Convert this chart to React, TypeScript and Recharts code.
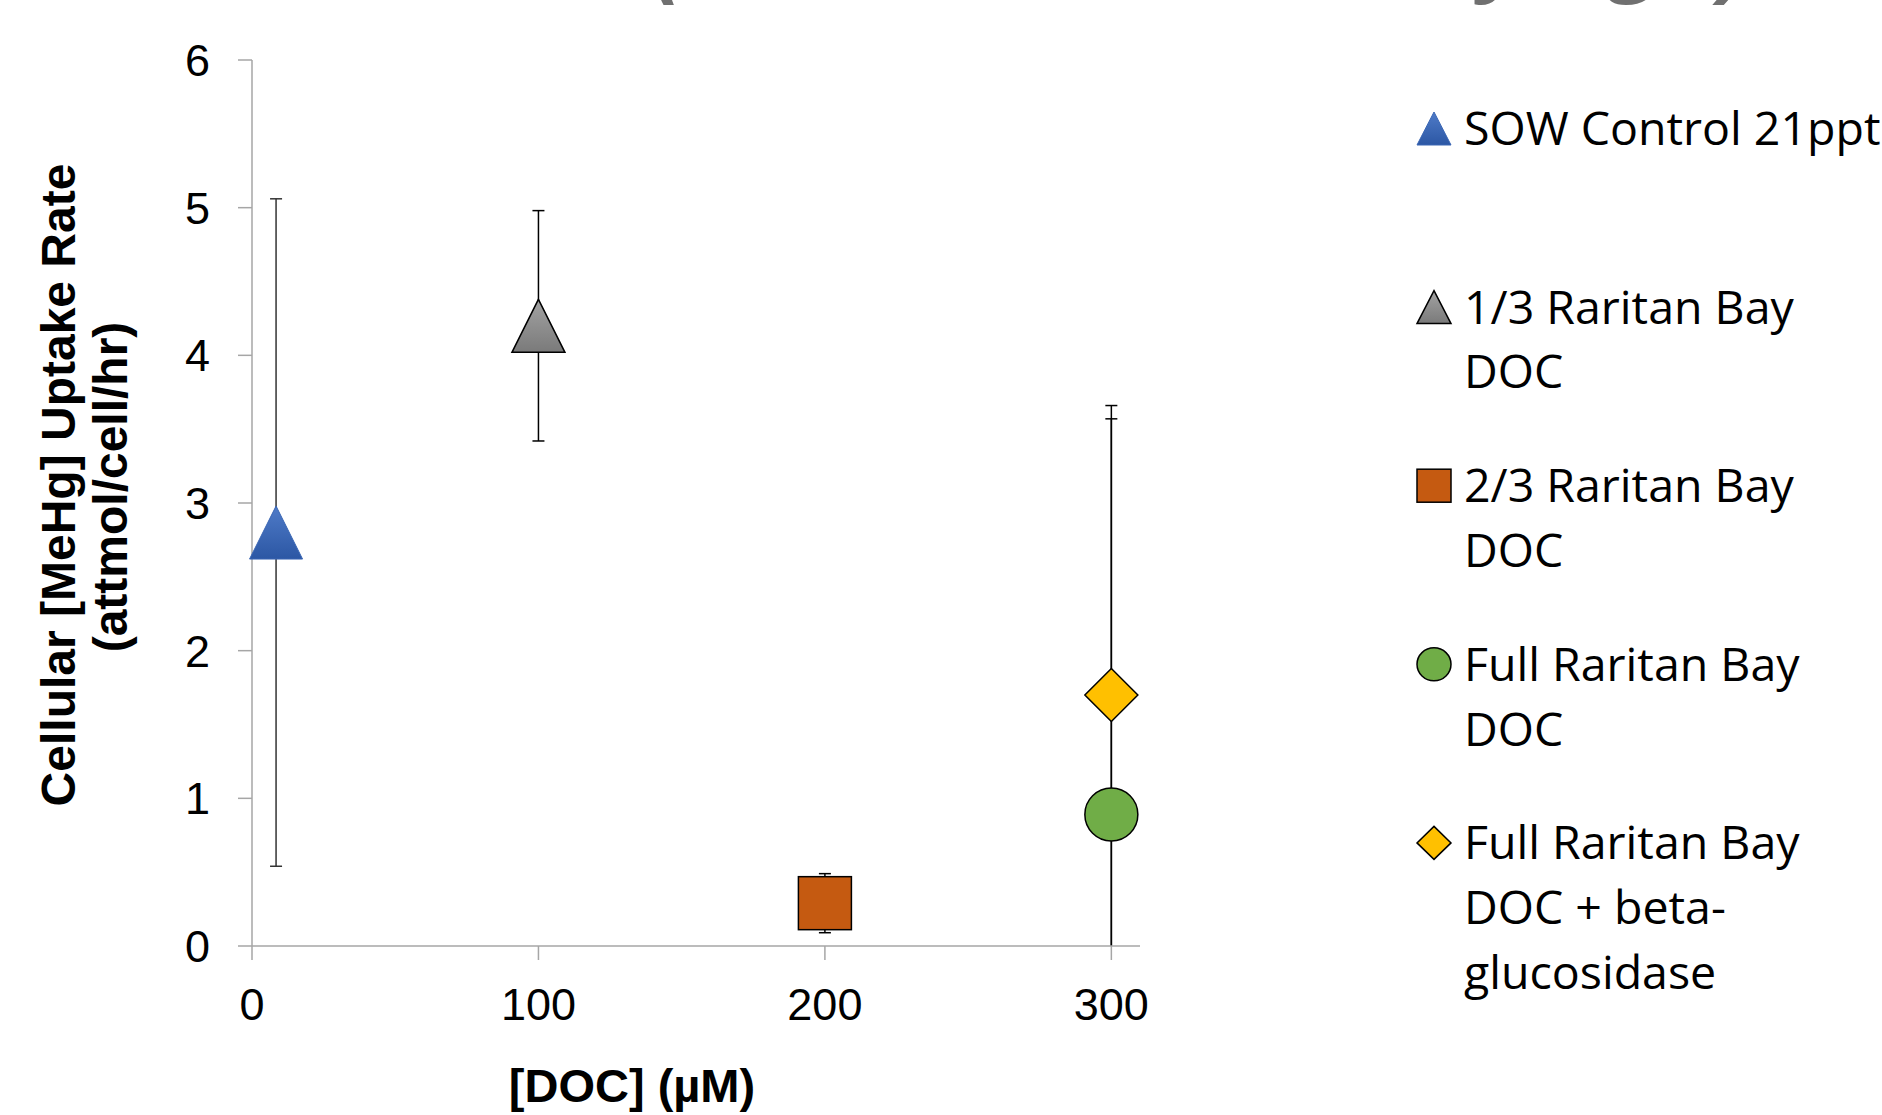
import React from 'react';
import { ScatterChart, Scatter, XAxis, YAxis, ErrorBar, Legend, Label } from 'recharts';

// Series definitions
const seriesNames = [
  'SOW Control 21ppt',
  '1/3 Raritan Bay DOC',
  '2/3 Raritan Bay DOC',
  'Full Raritan Bay DOC',
  'Full Raritan Bay DOC + beta-glucosidase',
];
const legendLines = [
  ['SOW Control 21ppt'],
  ['1/3 Raritan Bay', 'DOC'],
  ['2/3 Raritan Bay', 'DOC'],
  ['Full Raritan Bay', 'DOC'],
  ['Full Raritan Bay', 'DOC + beta-', 'glucosidase'],
];
const docConcentrations = [8.4, 100, 200, 300, 300];
const uptakeRates = [2.8, 4.2, 0.29, 0.89, 1.7];
const uptakeErrors = [2.26, 0.78, 0.2, 2.77, 1.87];
const markerKinds = ['triangle', 'triangle', 'square', 'circle', 'diamond'];
const errorColors = ['#333333', '#000000', '#000000', '#000000', '#000000'];

const xTicks = [0, 100, 200, 300];
const yTicks = [0, 1, 2, 3, 4, 5, 6];
const Y_MIN = 0;

// Heading glyphs showing at the top edge
const headingGlyphs = ['(', 'y', 'g', ')'];
const headingGlyphX = [669, 1504, 1636, 1734];
const headingGlyphY = [-9, -17, -17, -9];

const W = 1882;
const H = 1115;

const seriesData = seriesNames.map((name, i) => [
  { doc: docConcentrations[i], rate: uptakeRates[i], err: uptakeErrors[i], name },
]);

// upper whisker, and lower whisker stopped at the axis floor
const upperError = (d: any) => {
  const p = d && d.payload ? d.payload : d;
  return [0, p.err];
};
const lowerError = (d: any) => {
  const p = d && d.payload ? d.payload : d;
  return [Math.min(p.err, p.rate - Y_MIN), 0];
};

function fillFor(i: number, prefix: string) {
  if (i === 0) return `url(#${prefix}-blue)`;
  if (i === 1) return `url(#${prefix}-gray)`;
  if (i === 2) return '#C55A11';
  if (i === 3) return '#70AD47';
  return '#FFC000';
}

function Gradients({ prefix }: { prefix: string }) {
  return (
    <defs>
      <linearGradient id={`${prefix}-blue`} x1="0" y1="0" x2="0" y2="1">
        <stop offset="0%" stopColor="#4F7BC8" />
        <stop offset="100%" stopColor="#2C57A4" />
      </linearGradient>
      <linearGradient id={`${prefix}-gray`} x1="0" y1="0" x2="0" y2="1">
        <stop offset="0%" stopColor="#A3A3A3" />
        <stop offset="100%" stopColor="#7A7A7A" />
      </linearGradient>
    </defs>
  );
}

function drawMarker(i: number, cx: number, cy: number, w: number, h: number, prefix: string) {
  const kind = markerKinds[i];
  const fill = fillFor(i, prefix);
  const stroke = i === 0 ? '#3A66B4' : '#000000';
  const sw = i === 0 ? 1 : 1.5;
  const hw = w / 2;
  const hh = h / 2;
  if (kind === 'triangle') {
    return (
      <polygon
        points={`${cx},${cy - hh} ${cx + hw},${cy + hh} ${cx - hw},${cy + hh}`}
        fill={fill}
        stroke={stroke}
        strokeWidth={sw}
      />
    );
  }
  if (kind === 'square') {
    return <rect x={cx - hw} y={cy - hh} width={w} height={h} fill={fill} stroke={stroke} strokeWidth={sw} />;
  }
  if (kind === 'circle') {
    return <ellipse cx={cx} cy={cy} rx={hw} ry={hh} fill={fill} stroke={stroke} strokeWidth={sw} />;
  }
  return (
    <polygon
      points={`${cx},${cy - hh} ${cx + hw},${cy} ${cx},${cy + hh} ${cx - hw},${cy}`}
      fill={fill}
      stroke={stroke}
      strokeWidth={sw}
    />
  );
}

const makeShape = (i: number) => (props: any) => {
  const { cx, cy } = props;
  if (cx == null || cy == null) return <g />;
  return <g>{drawMarker(i, cx, cy, 53, 53, 'plot')}</g>;
};

const emptyShape = () => <g />;

function LegendPanel() {
  const baseline0 = 145;
  const step = 178.6;
  const lineHeight = 64.7;
  return (
    <svg width={W} height={H} style={{ position: 'absolute', left: 0, top: 0 }}>
      <Gradients prefix="legend" />
      {seriesNames.map((name, i) => {
        const base = baseline0 + i * step;
        return (
          <g key={name}>
            {drawMarker(i, 1434, base - 16.5, 34, 33, 'legend')}
            <text x={1464} y={base} fontFamily="'Open Sans', sans-serif" fontSize={46.5} fill="#000000">
              {legendLines[i].map((line, j) => (
                <tspan key={j} x={1464} y={base + j * lineHeight}>
                  {line}
                </tspan>
              ))}
            </text>
          </g>
        );
      })}
    </svg>
  );
}

const tickStyle = { fill: '#000000', fontSize: 45, fontFamily: "'Liberation Sans', Arial, sans-serif" };

export default function App() {
  return (
    <div style={{ position: 'absolute', left: 0, top: 0, width: W, height: H, background: '#ffffff', overflow: 'hidden' }}>
      <svg width={W} height={H} style={{ position: 'absolute', left: 0, top: 0 }}>
        {headingGlyphs.map((g, i) => (
          <text
            key={i}
            x={headingGlyphX[i]}
            y={headingGlyphY[i]}
            textAnchor="middle"
            fontFamily="'Open Sans', sans-serif"
            fontStyle="italic"
            fontWeight={700}
            fontSize={90}
            fill="#707070"
          >
            {g}
          </text>
        ))}
      </svg>
      <div style={{ position: 'absolute', left: 0, top: 0 }}>
        <ScatterChart width={W} height={H} margin={{ top: 60, right: 742, bottom: 0, left: 0 }}>
          <Gradients prefix="plot" />
          <XAxis
            type="number"
            dataKey="doc"
            domain={[0, 310]}
            ticks={xTicks}
            interval={0}
            height={169}
            tickSize={14}
            tickMargin={28}
            stroke="#A6A6A6"
            strokeWidth={1.5}
            tick={tickStyle}
          >
            <Label
              content={() => (
                <text
                  x={632}
                  y={1102}
                  textAnchor="middle"
                  fontFamily="'Liberation Sans', Arial, sans-serif"
                  fontWeight={700}
                  fontSize={47}
                  fill="#000000"
                >
                  [DOC] (µM)
                </text>
              )}
            />
          </XAxis>
          <YAxis
            type="number"
            dataKey="rate"
            domain={[Y_MIN, 6]}
            ticks={yTicks}
            interval={0}
            width={252}
            tickSize={14}
            tickMargin={28}
            stroke="#A6A6A6"
            strokeWidth={1.5}
            tick={tickStyle}
          >
            <Label
              content={() => (
                <g>
                  <text
                    transform="translate(75, 485) rotate(-90)"
                    textAnchor="middle"
                    fontFamily="'Liberation Sans', Arial, sans-serif"
                    fontWeight={700}
                    fontSize={48}
                    fill="#000000"
                  >
                    Cellular [MeHg] Uptake Rate
                  </text>
                  <text
                    transform="translate(127, 487) rotate(-90)"
                    textAnchor="middle"
                    fontFamily="'Liberation Sans', Arial, sans-serif"
                    fontWeight={700}
                    fontSize={48}
                    fill="#000000"
                  >
                    (attmol/cell/hr)
                  </text>
                </g>
              )}
            />
          </YAxis>
          {/* error bars first so every marker sits on top of them */}
          {seriesNames.map((name, i) => (
            <Scatter
              key={`err-${name}`}
              data={seriesData[i]}
              shape={emptyShape}
              legendType="none"
              isAnimationActive={false}
            >
              <ErrorBar dataKey={upperError} direction="y" width={6} stroke={errorColors[i]} strokeWidth={1.5} />
              <ErrorBar
                dataKey={lowerError}
                direction="y"
                width={uptakeErrors[i] > uptakeRates[i] - Y_MIN ? 0 : 6}
                stroke={errorColors[i]}
                strokeWidth={1.5}
              />
            </Scatter>
          ))}
          {seriesNames.map((name, i) => (
            <Scatter
              key={`pts-${name}`}
              name={name}
              data={seriesData[i]}
              shape={makeShape(i)}
              isAnimationActive={false}
            />
          ))}
          <Legend
            layout="vertical"
            align="center"
            verticalAlign="middle"
            content={() => <LegendPanel />}
            wrapperStyle={{ position: 'absolute', left: 0, top: 0, width: W, height: H }}
          />
        </ScatterChart>
      </div>
    </div>
  );
}
